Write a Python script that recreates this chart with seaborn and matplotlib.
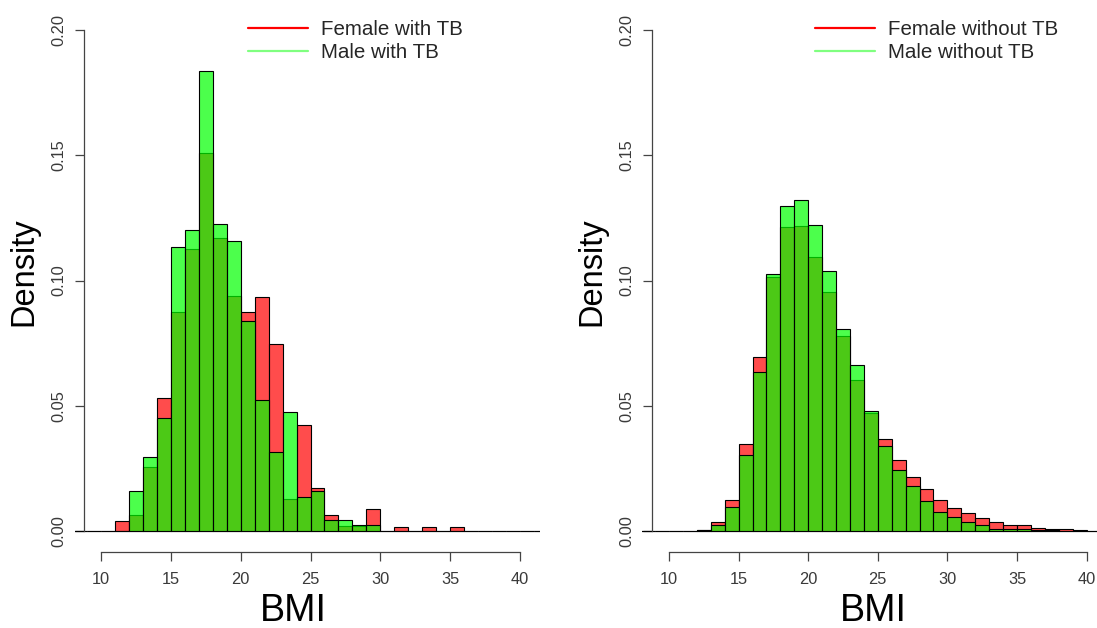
import numpy as np
import pandas as pd
import seaborn as sns
import matplotlib
matplotlib.use("Agg")
import matplotlib.pyplot as plt
from matplotlib.lines import Line2D

# Bin edges: 1-unit BMI bins
edges_tb = list(range(8, 43))
edges_notb = list(range(8, 46))

# Density per BMI bin (lower bin edge -> density), patients with TB
female_tb = {11: 0.0041, 12: 0.0063, 13: 0.0257, 14: 0.0530, 15: 0.0873,
             16: 0.1126, 17: 0.1509, 18: 0.1168, 19: 0.0937, 20: 0.0873,
             21: 0.0935, 22: 0.0745, 23: 0.0129, 24: 0.0424, 25: 0.0173,
             26: 0.0063, 27: 0.0020, 28: 0.0020, 29: 0.0087, 31: 0.0017,
             33: 0.0017, 35: 0.0017}
male_tb = {12: 0.0160, 13: 0.0297, 14: 0.0452, 15: 0.1134, 16: 0.1200,
           17: 0.1836, 18: 0.1224, 19: 0.1158, 20: 0.0837, 21: 0.0522,
           22: 0.0317, 23: 0.0476, 24: 0.0137, 25: 0.0160, 26: 0.0045,
           27: 0.0045, 28: 0.0023, 29: 0.0023}

# Density per BMI bin, patients without TB
female_notb = {12: 0.0004, 13: 0.0035, 14: 0.0124, 15: 0.0346, 16: 0.0693,
               17: 0.1014, 18: 0.1212, 19: 0.1216, 20: 0.1092, 21: 0.0954,
               22: 0.0777, 23: 0.0604, 24: 0.0471, 25: 0.0366, 26: 0.0283,
               27: 0.0214, 28: 0.0168, 29: 0.0125, 30: 0.0093, 31: 0.0071,
               32: 0.0051, 33: 0.0035, 34: 0.0023, 35: 0.0023, 36: 0.0013,
               37: 0.0007, 38: 0.0007, 39: 0.0003, 40: 0.0002, 41: 0.0001}
male_notb = {12: 0.0003, 13: 0.0023, 14: 0.0096, 15: 0.0302, 16: 0.0633,
             17: 0.1025, 18: 0.1299, 19: 0.1321, 20: 0.1220, 21: 0.1037,
             22: 0.0808, 23: 0.0663, 24: 0.0480, 25: 0.0338, 26: 0.0242,
             27: 0.0178, 28: 0.0120, 29: 0.0077, 30: 0.0055, 31: 0.0035,
             32: 0.0023, 33: 0.0009, 34: 0.0007, 35: 0.0007, 36: 0.0005,
             37: 0.0003, 38: 0.0002, 39: 0.0002, 40: 0.0001, 41: 0.0001}

labels_tb = ["Female with TB", "Male with TB"]
labels_notb = ["Female without TB", "Male without TB"]
x_ticks = [10, 15, 20, 25, 30, 35, 40]
y_ticks = [0.00, 0.05, 0.10, 0.15, 0.20]

RED = "#ff0000"
GREEN = "#00ff00"
LEGEND_GREEN = "#80ff80"

sns.set_theme(style="white")
plt.rcParams["font.family"] = ["Liberation Sans", "DejaVu Sans"]

W, H = 1097, 628
fig = plt.figure(figsize=(W / 100, H / 100), dpi=100)


def frame(density, edges):
    """One row per bin: bin centre weighted by its density."""
    lo = edges[:-1]
    return pd.DataFrame({"bmi": [b + 0.5 for b in lo],
                         "w": [density.get(b, 0.0) for b in lo]})


def panel(rect, female, male, edges, labels, xlim, legend_px,
          ylabel_px, xlabel_px):
    ax = fig.add_axes(rect)
    for dens, col in ((female, RED), (male, GREEN)):
        df = frame(dens, edges)
        sns.histplot(data=df, x="bmi", weights="w", bins=edges, stat="count",
                     color=col, alpha=0.7, edgecolor="black", linewidth=0.8,
                     ax=ax)
    ax.set_xlim(*xlim)
    ax.set_ylim(-0.00838, 0.208)

    for s in ("top", "right"):
        ax.spines[s].set_visible(False)
    ax.spines["left"].set_position(("data", 8.78))
    ax.spines["left"].set_bounds(0, 0.2)
    ax.spines["bottom"].set_bounds(10, 40)
    for s in ("left", "bottom"):
        ax.spines[s].set_color("#444444")
        ax.spines[s].set_linewidth(0.9)

    ax.set_xticks(x_ticks)
    ax.set_xticklabels([str(t) for t in x_ticks])
    ax.set_yticks(y_ticks)
    ax.set_yticklabels([f"{t:.2f}" for t in y_ticks], rotation=90, va="center")
    ax.tick_params(axis="both", which="major", direction="out", length=6.5,
                   width=0.9, color="#444444", labelsize=11.8,
                   labelcolor="#3a3a3a", left=True, bottom=True)
    ax.tick_params(axis="x", pad=8)
    ax.tick_params(axis="y", pad=6)
    ax.grid(False)

    ax.set_xlabel("BMI", fontsize=27, color="black", va="center")
    ax.set_ylabel("Density", fontsize=23.5, color="black", va="center")
    ax_left = rect[0] * W
    ax_w = rect[2] * W
    ax.xaxis.set_label_coords((xlabel_px - ax_left) / ax_w, (552 - 611) / 542)
    ax.yaxis.set_label_coords((ylabel_px - ax_left) / ax_w, (552 - 272) / 542)

    handles = [Line2D([], [], color=RED, lw=1.6),
               Line2D([], [], color=LEGEND_GREEN, lw=1.6)]
    ax.legend(handles, labels, loc="upper left",
              bbox_to_anchor=(legend_px / W, 1 - 20 / H),
              bbox_transform=fig.transFigure, frameon=False, fontsize=14.8,
              handlelength=2.9, handletextpad=0.63, borderpad=0,
              borderaxespad=0, labelspacing=0.2)
    return ax


bottom = (H - 552) / H
height = 542 / H
panel([75 / W, bottom, 465 / W, height], female_tb, male_tb, edges_tb,
      labels_tb, (8.14, 41.43), 248, 24, 293)
panel([642 / W, bottom, 464.5 / W, height], female_notb, male_notb,
      edges_notb, labels_notb, (8.06, 41.43), 815, 592, 873)

fig.savefig("out.png", dpi=100)
